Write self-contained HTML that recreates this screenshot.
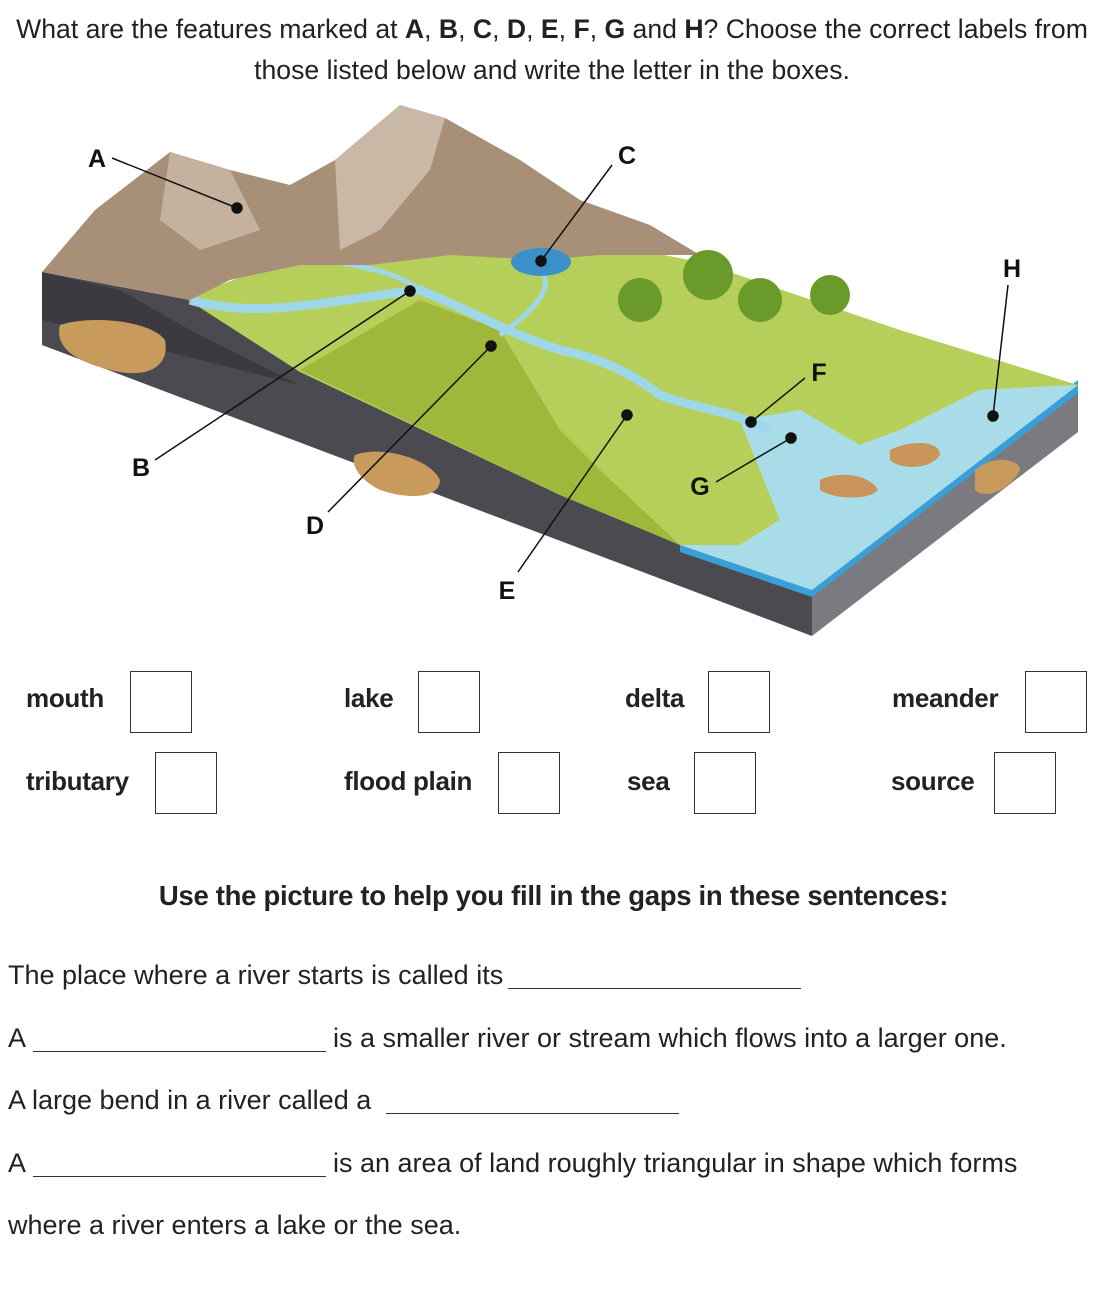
<!DOCTYPE html>
<html><head><meta charset="utf-8"><style>
body{margin:0;width:1112px;height:1294px;background:#fff;font-family:"Liberation Sans",sans-serif;color:#222;position:relative;overflow:hidden}
.t{position:absolute;white-space:nowrap}
.title{left:0;width:1104px;text-align:center;font-size:26.6px;line-height:41px;top:9px}
.lab{font-weight:bold;font-size:26px;letter-spacing:-0.3px}
.box{position:absolute;width:62px;height:62px;border:1.5px solid #333;box-sizing:border-box}
.s{font-size:27px}
.u{position:absolute;height:0;border-top:1.5px solid #333}
</style></head><body>
<div class="t title">What are the features marked at <b>A</b>, <b>B</b>, <b>C</b>, <b>D</b>, <b>E</b>, <b>F</b>, <b>G</b> and <b>H</b>? Choose the correct labels from<br>those listed below and write the letter in the boxes.</div>

<svg style="position:absolute;left:0;top:0" width="1112" height="660">
<polygon points="42,272 190,300 300,370 560,495 812,590 812,636 42,345" fill="#4a4a50"/>
<polygon points="42,272 120,290 190,330 300,385 42,320" fill="#3a3a40"/>
<polygon points="812,590 1078,385 1078,432 812,636" fill="#7a7a80"/>
<polygon points="680,540 812,584 1078,380 1078,393 812,597 680,552" fill="#3a9fd6"/>
<polygon points="185,298 260,270 400,250 560,235 700,262 900,330 1078,385 980,390 900,430 860,445 800,430 740,420 760,470 780,520 740,545 680,545 560,495 300,372" fill="#b5cf5a"/>
<polygon points="300,370 420,300 500,330 560,430 600,470 680,545 560,495" fill="#9fb83c"/>
<polygon points="740,420 800,410 860,445 900,430 980,390 1078,385 812,590 680,545 740,545 780,520 760,470" fill="#a8dce8"/>
<path d="M190,300 C260,320 330,300 420,290 C470,310 500,330 560,350 C610,360 640,380 660,395 C700,410 730,410 770,430" stroke="#9ed8e8" stroke-width="9" fill="none"/>
<path d="M270,240 C330,270 380,260 420,290 M540,270 C560,290 520,320 500,335" stroke="#9ed8e8" stroke-width="5" fill="none"/>
<polygon points="42,272 95,210 170,152 230,170 290,185 335,160 400,105 445,118 520,160 580,200 650,225 700,255 600,255 540,260 450,255 370,265 300,265 230,280 190,300" fill="#a89078"/>
<polygon points="335,160 400,105 445,118 430,170 380,230 340,250" fill="#c9b8a6"/>
<polygon points="170,152 230,170 260,230 200,250 160,220" fill="#c4b29e"/>
<ellipse cx="541" cy="262" rx="30" ry="14" fill="#3a90c8"/>
<path d="M60,325 C90,315 150,320 165,340 C170,365 150,380 110,370 C70,360 55,345 60,325Z" fill="#c89a5c"/>
<path d="M355,455 C380,445 430,458 440,480 C440,498 410,500 380,490 C360,480 350,465 355,455Z" fill="#c89a5c"/>
<path d="M975,470 C990,455 1020,458 1020,470 C1010,490 985,500 975,490Z" fill="#c89a5c"/>
<path d="M820,480 C840,470 870,475 878,490 C870,500 835,500 820,490Z M890,450 C910,440 940,440 940,455 C930,470 900,470 890,460Z" fill="#c8945a"/>
<g fill="#6a9a2a"><circle cx="640" cy="300" r="22"/><circle cx="708" cy="275" r="25"/><circle cx="760" cy="300" r="22"/><circle cx="830" cy="295" r="20"/></g>
<g stroke="#111" stroke-width="1.5" fill="#111">
<line x1="112" y1="158" x2="237" y2="208"/><circle cx="237" cy="208" r="5"/>
<line x1="612" y1="165" x2="541" y2="261"/><circle cx="541" cy="261" r="5"/>
<line x1="1008" y1="285" x2="993" y2="416"/><circle cx="993" cy="416" r="5"/>
<line x1="155" y1="460" x2="410" y2="291"/><circle cx="410" cy="291" r="5"/>
<line x1="328" y1="512" x2="491" y2="346"/><circle cx="491" cy="346" r="5"/>
<line x1="518" y1="572" x2="627" y2="415"/><circle cx="627" cy="415" r="5"/>
<line x1="805" y1="378" x2="751" y2="422"/><circle cx="751" cy="422" r="5"/>
<line x1="716" y1="482" x2="791" y2="438"/><circle cx="791" cy="438" r="5"/>
</g>
<g font-family="Liberation Sans" font-weight="bold" font-size="25" fill="#111" text-anchor="middle">
<text x="97" y="167">A</text><text x="627" y="164">C</text><text x="1012" y="277">H</text>
<text x="141" y="476">B</text><text x="315" y="534">D</text><text x="507" y="599">E</text>
<text x="819" y="381">F</text><text x="700" y="495">G</text>
</g>
</svg>

<div class="t lab" style="left:26px;top:683px">mouth</div><div class="box" style="left:130px;top:671px"></div>
<div class="t lab" style="left:344px;top:683px">lake</div><div class="box" style="left:418px;top:671px"></div>
<div class="t lab" style="left:625px;top:683px">delta</div><div class="box" style="left:708px;top:671px"></div>
<div class="t lab" style="left:892px;top:683px">meander</div><div class="box" style="left:1025px;top:671px"></div>
<div class="t lab" style="left:26px;top:766px">tributary</div><div class="box" style="left:155px;top:752px"></div>
<div class="t lab" style="left:344px;top:766px">flood plain</div><div class="box" style="left:498px;top:752px"></div>
<div class="t lab" style="left:627px;top:766px">sea</div><div class="box" style="left:694px;top:752px"></div>
<div class="t lab" style="left:891px;top:766px">source</div><div class="box" style="left:994px;top:752px"></div>

<div class="t lab" style="left:0;width:1107px;text-align:center;top:880px;font-size:27.5px">Use the picture to help you fill in the gaps in these sentences:</div>

<div class="t s" style="left:8px;top:960px">The place where a river starts is called its</div><div class="u" style="left:508px;width:293px;top:988px"></div>
<div class="t s" style="left:8px;top:1023px">A</div><div class="u" style="left:33px;width:293px;top:1051px"></div><div class="t s" style="left:333px;top:1023px">is a smaller river or stream which flows into a larger one.</div>
<div class="t s" style="left:8px;top:1085px">A large bend in a river called a</div><div class="u" style="left:386px;width:293px;top:1113px"></div>
<div class="t s" style="left:8px;top:1148px">A</div><div class="u" style="left:33px;width:293px;top:1176px"></div><div class="t s" style="left:333px;top:1148px">is an area of land roughly triangular in shape which forms</div>
<div class="t s" style="left:8px;top:1210px">where a river enters a lake or the sea.</div>
</body></html>
